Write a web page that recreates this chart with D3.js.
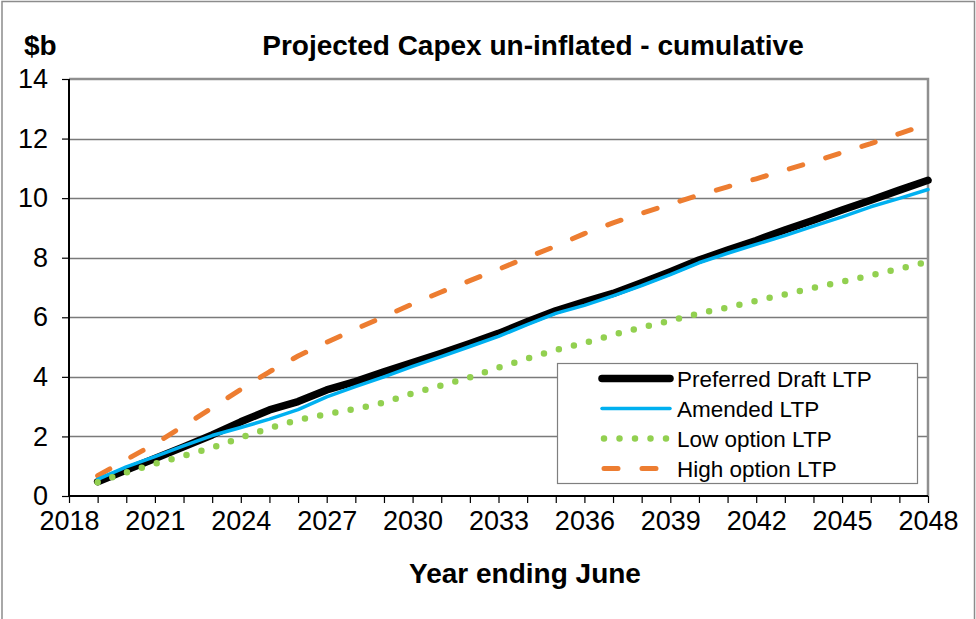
<!DOCTYPE html>
<html>
<head>
<meta charset="utf-8">
<script src="https://cdn.jsdelivr.net/npm/d3@7"></script>
<style>
  body { margin: 0; background: #fff; }
  svg { display: block; font-family: "Liberation Sans", Arial, sans-serif; }
  .axis path { display: none; }
  .axis line { stroke: #000; stroke-width: 1.2; }
  .axis text { fill: #000; font-size: 27px; }
</style>
</head>
<body>
<script>
var years = [2019, 2020, 2021, 2022, 2023, 2024, 2025, 2026, 2027, 2028,
  2029, 2030, 2031, 2032, 2033, 2034, 2035, 2036, 2037, 2038,
  2039, 2040, 2041, 2042, 2043, 2044, 2045, 2046, 2047, 2048];

var preferred = [0.48, 0.87, 1.26, 1.65, 2.05, 2.49, 2.89, 3.17, 3.56, 3.84,
  4.17, 4.48, 4.79, 5.12, 5.46, 5.85, 6.22, 6.52, 6.80, 7.16,
  7.53, 7.92, 8.26, 8.58, 8.93, 9.26, 9.60, 9.93, 10.27, 10.60];

var amended = [0.56, 0.98, 1.32, 1.68, 2.03, 2.30, 2.58, 2.90, 3.33, 3.67,
  4.00, 4.35, 4.68, 5.02, 5.36, 5.75, 6.13, 6.40, 6.72, 7.06,
  7.43, 7.83, 8.15, 8.45, 8.74, 9.06, 9.37, 9.71, 9.99, 10.29];

var lowOption = [0.46, 0.79, 1.08, 1.35, 1.62, 1.96, 2.28, 2.55, 2.75, 2.92,
  3.14, 3.45, 3.71, 3.98, 4.31, 4.61, 4.90, 5.14, 5.41, 5.66,
  5.88, 6.13, 6.33, 6.55, 6.77, 6.99, 7.19, 7.41, 7.63, 7.86];

var highOption = [0.68, 1.22, 1.75, 2.35, 2.96, 3.58, 4.17, 4.70, 5.16, 5.60,
  6.02, 6.45, 6.85, 7.23, 7.61, 8.01, 8.39, 8.81, 9.17, 9.49,
  9.80, 10.10, 10.38, 10.65, 10.94, 11.22, 11.53, 11.83, 12.17, 12.48];

var yTicks = [0, 2, 4, 6, 8, 10, 12, 14];

var series = [
  { name: "Preferred Draft LTP", values: preferred, color: "#000000", width: 7.5, dash: null },
  { name: "Amended LTP", values: amended, color: "#00B0F0", width: 3.5, dash: null },
  { name: "Low option LTP", values: lowOption, color: "#92D050", width: 6.5, dash: "0,15.5" },
  { name: "High option LTP", values: highOption, color: "#ED7D31", width: 5, dash: "14,24" }
];

var W = 976, H = 619;
var plot = { left: 69, right: 928, top: 79, bottom: 496 };

var svg = d3.select("body").append("svg")
  .attr("width", W)
  .attr("height", H);

// outer chart border
svg.append("rect")
  .attr("x", 2).attr("y", 1.5)
  .attr("width", W - 3.5).attr("height", H + 20)
  .attr("fill", "none")
  .attr("stroke", "#8c8c8c")
  .attr("stroke-width", 1.5);

var x = d3.scaleLinear().domain([2018, 2048]).range([plot.left, plot.right]);
var y = d3.scaleLinear().domain([0, 14]).range([plot.bottom, plot.top]);

// gridlines
svg.append("g")
  .selectAll("line")
  .data(yTicks.filter(function (d) { return d > 0 && d < 14; }))
  .join("line")
  .attr("x1", plot.left).attr("x2", plot.right)
  .attr("y1", function (d) { return Math.round(y(d)) + 0.5; })
  .attr("y2", function (d) { return Math.round(y(d)) + 0.5; })
  .attr("stroke", "#7a7a7a")
  .attr("stroke-width", 1.3);

// plot area border (top / right grey)
svg.append("path")
  .attr("d", "M" + plot.left + "," + plot.top + "H" + plot.right + "V" + plot.bottom)
  .attr("fill", "none")
  .attr("stroke", "#8f8f8f")
  .attr("stroke-width", 2.5);

// axes
var xAxis = d3.axisBottom(x)
  .tickValues(d3.range(2018, 2049))
  .tickSize(7)
  .tickPadding(8)
  .tickFormat(function (d) { return (d - 2018) % 3 === 0 ? d : ""; });

svg.append("g")
  .attr("class", "axis")
  .attr("transform", "translate(0," + plot.bottom + ")")
  .call(xAxis);

var yAxis = d3.axisLeft(y)
  .tickValues(yTicks)
  .tickSize(7)
  .tickPadding(14);

svg.append("g")
  .attr("class", "axis")
  .attr("transform", "translate(" + plot.left + ",0)")
  .call(yAxis);

svg.append("line")
  .attr("x1", plot.left).attr("x2", plot.left)
  .attr("y1", plot.top).attr("y2", plot.bottom + 1)
  .attr("stroke", "#000").attr("stroke-width", 2);
svg.append("line")
  .attr("x1", plot.left - 1).attr("x2", plot.right)
  .attr("y1", plot.bottom).attr("y2", plot.bottom)
  .attr("stroke", "#000").attr("stroke-width", 2);

// lines
var line = d3.line()
  .x(function (d, i) { return x(years[i]); })
  .y(function (d) { return y(d); });

var drawOrder = [0, 3, 1, 2];
drawOrder.forEach(function (k) {
  var s = series[k];
  svg.append("path")
    .datum(s.values)
    .attr("fill", "none")
    .attr("stroke", s.color)
    .attr("stroke-width", s.width)
    .attr("stroke-linejoin", "round")
    .attr("stroke-linecap", "round")
    .attr("stroke-dasharray", s.dash)
    .attr("d", line);
});

// titles
svg.append("text")
  .attr("x", 533).attr("y", 55)
  .attr("text-anchor", "middle")
  .attr("font-size", "28px")
  .attr("font-weight", "bold")
  .text("Projected Capex un-inflated - cumulative");

svg.append("text")
  .attr("x", 24).attr("y", 55)
  .attr("font-size", "28px")
  .attr("font-weight", "bold")
  .text("$b");

svg.append("text")
  .attr("x", 525).attr("y", 583)
  .attr("text-anchor", "middle")
  .attr("font-size", "28px")
  .attr("font-weight", "bold")
  .text("Year ending June");

// legend
var legend = svg.append("g");
legend.append("rect")
  .attr("x", 557.5).attr("y", 363.5)
  .attr("width", 360).attr("height", 120)
  .attr("fill", "#fff")
  .attr("stroke", "#7f7f7f")
  .attr("stroke-width", 1.2);

var rows = legend.selectAll("g.item")
  .data(series)
  .join("g")
  .attr("class", "item")
  .attr("transform", function (d, i) { return "translate(0," + (378.5 + i * 30) + ")"; });

rows.append("line")
  .attr("x1", function (d) { return d.dash ? 604 : 602; })
  .attr("x2", 670)
  .attr("y1", 0).attr("y2", 0)
  .attr("stroke", function (d) { return d.color; })
  .attr("stroke-width", function (d) { return d.width; })
  .attr("stroke-linecap", "round")
  .attr("stroke-dasharray", function (d) { return d.dash; });

rows.append("text")
  .attr("x", 677)
  .attr("y", 8)
  .attr("font-size", "22.5px")
  .text(function (d) { return d.name; });
</script>
</body>
</html>
